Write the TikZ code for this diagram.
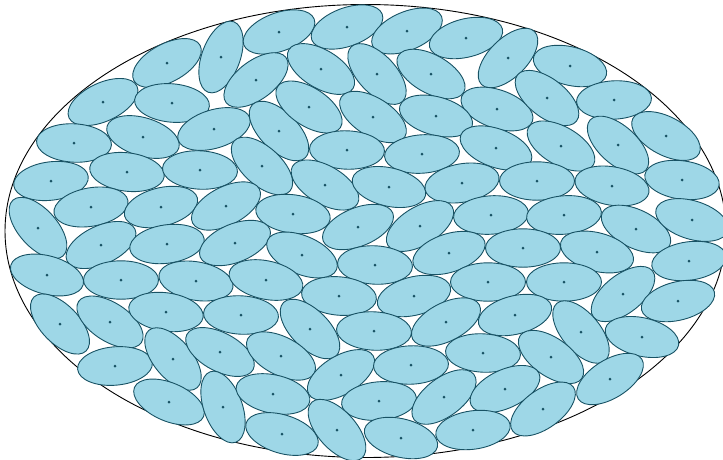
\documentclass[tikz,border=0pt]{standalone}
\usepackage{tikz}

\definecolor{mauhat}{RGB}{158,215,231}
\definecolor{vienhat}{RGB}{24,82,100}

\tikzset{
    hat/.style={fill=mauhat, draw=vienhat, line width=0.9pt},
    tamhat/.style={fill=vienhat},
    khung/.style={draw=black, line width=0.9pt}
}

\begin{document}
\begin{tikzpicture}[x=1pt, y=-1pt]
    \useasboundingbox (0,0) rectangle (723,459);
    % Đường viền elip lớn bao quanh
    \draw[khung] (365.5,231) ellipse [x radius=360.5, y radius=226.5];

    % Các hạt elip nhỏ: x / y / góc quay
    \foreach \x/\y/\g in {
        167/63/28, 221/57/70, 279/32/20, 347/27/20, 407/31/23, 466/38/14, 508/58/45, 570/66/-14, 614/100/3, 666/136/-28,
        103/102/25, 172/103/-5, 256/80/37, 321/69/-31, 377/74/-47, 431/74/-29, 497/109/-19, 547/98/-38,
        74/143/-3, 143/137/-17, 214/129/17, 279/131/-45, 309/107/-33, 373/117/-32, 436/116/-15, 347/150/-2,
        422/154/4, 496/148/-20, 561/146/-30, 618/145/-42, 682/180/-8,
        51/181/7, 127/172/-7, 200/170/-3, 262/166/-42, 325/185/-30, 389/187/-13, 462/183/10, 537/181/0, 612/186/-10,
        91/207/10, 161/207/14, 226/206/27, 293/214/-8, 358/227/22, 420/226/31, 491/215/4, 564/215/5, 636/229/-26, 692/220/-17,
        38/228/-48, 101/245/25, 167/244/8, 235/243/22, 302/255/-23, 375/265/-3, 449/253/18, 523/248/0, 597/252/-15, 689/261/8,
        47/275/-15, 121/280/0, 196/281/-10, 266/280/-12, 339/296/-5, 414/296/14, 488/282/0, 564/282/0, 623/294/38, 678/301/14,
        60/324/-46, 110/322/-33, 166/312/-8, 241/315/-3, 310/329/-45, 374/331/-3, 446/322/27, 515/315/14, 581/332/-50, 642/337/-13,
        115/366/5, 173/359/-50, 220/352/-28, 281/356/-27, 341/375/31, 411/365/2, 483/353/-3, 551/357/-35, 610/379/32,
        169/402/-23, 223/407/-70, 273/394/-12, 379/401/5, 444/397/37, 505/389/25, 543/409/36,
        282/434/-17, 337/430/-48, 401/438/-14, 473/430/8}
    {
        \draw[hat, shift={(\x,\y)}, rotate=\g] (0,0) ellipse [x radius=37.5, y radius=19.2];
        \fill[tamhat] (\x,\y) circle [radius=1.5];   % tâm hạt
    }
\end{tikzpicture}
\end{document}
